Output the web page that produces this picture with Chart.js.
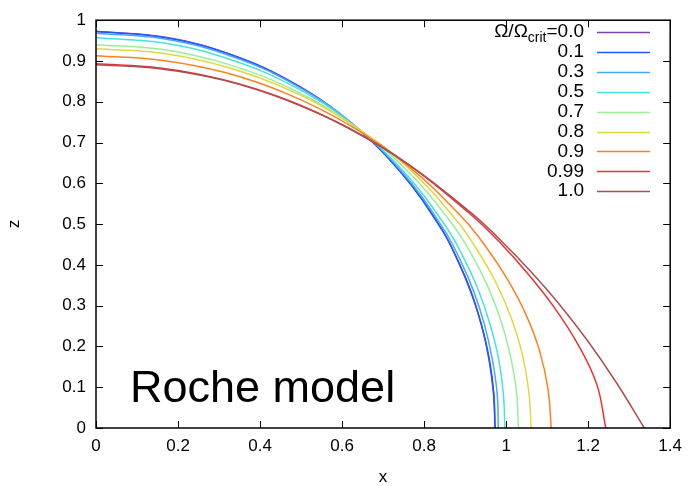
<!DOCTYPE html>
<html>
<head>
<meta charset="utf-8">
<script src="https://cdn.jsdelivr.net/npm/chart.js@4.4.1/dist/chart.umd.min.js"></script>
<style>
  html, body { margin: 0; padding: 0; background: #fff; }
  #wrap { width: 690px; height: 486px; }
</style>
</head>
<body>
<div id="wrap"><canvas id="roche" width="690" height="486"></canvas></div>
<script>
// surface of a rotating star, one quarter meridian per rotation rate
const omegaLabels = ['0.0', '0.1', '0.3', '0.5', '0.7', '0.8', '0.9', '0.99', '1.0'];
const lineColors = ['#8040b0', '#2058ff', '#48a8ff', '#48e0e0', '#98f098', '#e0d840', '#ff8020', '#f03030', '#a85050'];

const x_00 = [0, 0.169, 0.333, 0.487, 0.625, 0.745, 0.843, 0.882, 0.914, 0.940, 0.958, 0.969, 0.973];
const z_00 = [0.973, 0.958, 0.914, 0.843, 0.745, 0.625, 0.487, 0.411, 0.333, 0.252, 0.169, 0.085, 0];
const x_01 = [0, 0.169, 0.333, 0.486, 0.625, 0.745, 0.843, 0.882, 0.915, 0.940, 0.959, 0.970, 0.973];
const z_01 = [0.972, 0.957, 0.914, 0.842, 0.745, 0.625, 0.487, 0.411, 0.333, 0.252, 0.169, 0.085, 0];
const x_03 = [0, 0.168, 0.332, 0.486, 0.626, 0.747, 0.847, 0.887, 0.921, 0.947, 0.966, 0.978, 0.981];
const z_03 = [0.968, 0.954, 0.911, 0.841, 0.746, 0.627, 0.489, 0.414, 0.335, 0.254, 0.170, 0.086, 0];
const x_05 = [0, 0.166, 0.329, 0.483, 0.625, 0.750, 0.854, 0.896, 0.932, 0.960, 0.981, 0.993, 0.997];
const z_05 = [0.957, 0.944, 0.903, 0.837, 0.745, 0.629, 0.493, 0.418, 0.339, 0.257, 0.173, 0.087, 0];
const x_07 = [0, 0.164, 0.324, 0.479, 0.624, 0.756, 0.868, 0.915, 0.955, 0.987, 1.010, 1.025, 1.030];
const z_07 = [0.940, 0.928, 0.891, 0.830, 0.744, 0.634, 0.501, 0.427, 0.348, 0.264, 0.178, 0.090, 0];
const x_08 = [0, 0.162, 0.322, 0.477, 0.624, 0.761, 0.880, 0.931, 0.976, 1.012, 1.039, 1.055, 1.061];
const z_08 = [0.930, 0.919, 0.884, 0.826, 0.744, 0.638, 0.508, 0.434, 0.355, 0.271, 0.183, 0.092, 0];
const x_09 = [0, 0.159, 0.317, 0.472, 0.621, 0.763, 0.893, 0.951, 1.003, 1.047, 1.081, 1.102, 1.110];
const z_09 = [0.913, 0.902, 0.871, 0.817, 0.741, 0.641, 0.516, 0.444, 0.365, 0.281, 0.191, 0.096, 0];
const x_099 = [0, 0.156, 0.311, 0.465, 0.617, 0.766, 0.911, 0.982, 1.050, 1.115, 1.174, 1.221, 1.243];
const z_099 = [0.893, 0.883, 0.854, 0.805, 0.735, 0.643, 0.526, 0.458, 0.382, 0.299, 0.207, 0.107, 0];
const x_10 = [0, 0.155, 0.310, 0.464, 0.616, 0.767, 0.914, 0.987, 1.059, 1.130, 1.200, 1.269, 1.337];
const z_10 = [0.891, 0.881, 0.853, 0.804, 0.735, 0.643, 0.528, 0.460, 0.385, 0.303, 0.212, 0.111, 0];

const xTicks = [0, 0.2, 0.4, 0.6, 0.8, 1, 1.2, 1.4];
const zTicks = [0, 0.1, 0.2, 0.3, 0.4, 0.5, 0.6, 0.7, 0.8, 0.9, 1];

const curves = [
  [x_00, z_00], [x_01, z_01], [x_03, z_03], [x_05, z_05], [x_07, z_07],
  [x_08, z_08], [x_09, z_09], [x_099, z_099], [x_10, z_10]
];

const FONT = '"Liberation Sans", Arial, Helvetica, sans-serif';

const datasets = curves.map(function (c, i) {
  return {
    label: omegaLabels[i],
    data: c[0].map(function (xv, k) { return { x: xv, y: c[1][k] }; }),
    borderColor: lineColors[i],
    borderWidth: 1.5,
    pointRadius: 0,
    fill: false,
    tension: 0.4,
    order: -i   // later curves on top
  };
});

// box round the plot with inward ticks on all four sides
const frame = {
  id: 'frame',
  afterDatasetsDraw(chart) {
    const { ctx, chartArea: a, scales: { x, y } } = chart;
    ctx.save();
    ctx.strokeStyle = '#000';
    ctx.lineWidth = 1;
    ctx.beginPath();
    xTicks.forEach(function (v) {
      const px = Math.round(x.getPixelForValue(v)) + 0.5;
      ctx.moveTo(px, a.bottom); ctx.lineTo(px, a.bottom - 7);
      ctx.moveTo(px, a.top); ctx.lineTo(px, a.top + 7);
    });
    zTicks.forEach(function (v) {
      const py = Math.round(y.getPixelForValue(v)) + 0.5;
      ctx.moveTo(a.left, py); ctx.lineTo(a.left + 7, py);
      ctx.moveTo(a.right, py); ctx.lineTo(a.right - 7, py);
    });
    ctx.stroke();
    ctx.lineWidth = 1.5;
    ctx.strokeRect(a.left, a.top, a.right - a.left, a.bottom - a.top);
    ctx.restore();
  }
};

// legend in the top right corner plus the model name
const notes = {
  id: 'notes',
  afterDraw(chart) {
    const ctx = chart.ctx;
    const textRight = 584, lineL = 597, lineR = 650, row0 = 32, rowH = 19.9;
    const big = '19px ' + FONT, small = '14px ' + FONT;
    ctx.save();
    ctx.fillStyle = '#000';
    ctx.textBaseline = 'middle';
    omegaLabels.forEach(function (lab, i) {
      const yy = row0 + i * rowH;
      ctx.font = big;
      if (i === 0) {
        const head = '\u03A9/\u03A9', tail = '=' + lab;
        const wHead = ctx.measureText(head).width;
        const wTail = ctx.measureText(tail).width;
        ctx.font = small;
        const wSub = ctx.measureText('crit').width;
        let xx = textRight - wTail - wSub - wHead;
        ctx.textAlign = 'left';
        ctx.font = big;
        ctx.fillText(head, xx, yy);
        xx += wHead;
        ctx.font = small;
        ctx.fillText('crit', xx, yy + 6);
        xx += wSub;
        ctx.font = big;
        ctx.fillText(tail, xx, yy);
      } else {
        ctx.textAlign = 'right';
        ctx.fillText(lab, textRight, yy);
      }
      ctx.strokeStyle = lineColors[i];
      ctx.lineWidth = 1.5;
      ctx.beginPath();
      ctx.moveTo(lineL, Math.round(yy) + 0.5);
      ctx.lineTo(lineR, Math.round(yy) + 0.5);
      ctx.stroke();
    });
    ctx.textAlign = 'left';
    ctx.textBaseline = 'alphabetic';
    ctx.font = '45px ' + FONT;
    ctx.fillText('Roche model', 130, 402);
    ctx.restore();
  }
};

function plain(v) { return String(v); }

new Chart(document.getElementById('roche'), {
  type: 'line',
  data: { datasets: datasets },
  options: {
    responsive: false,
    animation: false,
    devicePixelRatio: 1,
    layout: { padding: { top: 15, right: 17, bottom: 0, left: 0 } },
    plugins: { legend: { display: false }, tooltip: { enabled: false } },
    scales: {
      x: {
        type: 'linear',
        min: 0,
        max: 1.4,
        afterBuildTicks: function (s) { s.ticks = xTicks.map(function (v) { return { value: v }; }); },
        afterFit: function (s) { s.height = 58; },
        grid: { display: false, drawTicks: false },
        border: { display: false },
        ticks: { color: '#000', padding: 8, callback: plain, font: { size: 17, family: FONT } },
        title: { display: true, text: 'x', color: '#000', padding: 0, font: { size: 17, family: FONT, lineHeight: 1 } }
      },
      y: {
        type: 'linear',
        min: 0,
        max: 1,
        afterBuildTicks: function (s) { s.ticks = zTicks.map(function (v) { return { value: v }; }); },
        afterFit: function (s) { s.width = 96; },
        grid: { display: false, drawTicks: false },
        border: { display: false },
        ticks: { color: '#000', padding: 10, callback: plain, font: { size: 17, family: FONT } },
        title: { display: true, text: 'z', color: '#000', padding: { top: 6, bottom: 0 }, font: { size: 17, family: FONT, lineHeight: 1 } }
      }
    }
  },
  plugins: [frame, notes]
});
</script>
</body>
</html>
